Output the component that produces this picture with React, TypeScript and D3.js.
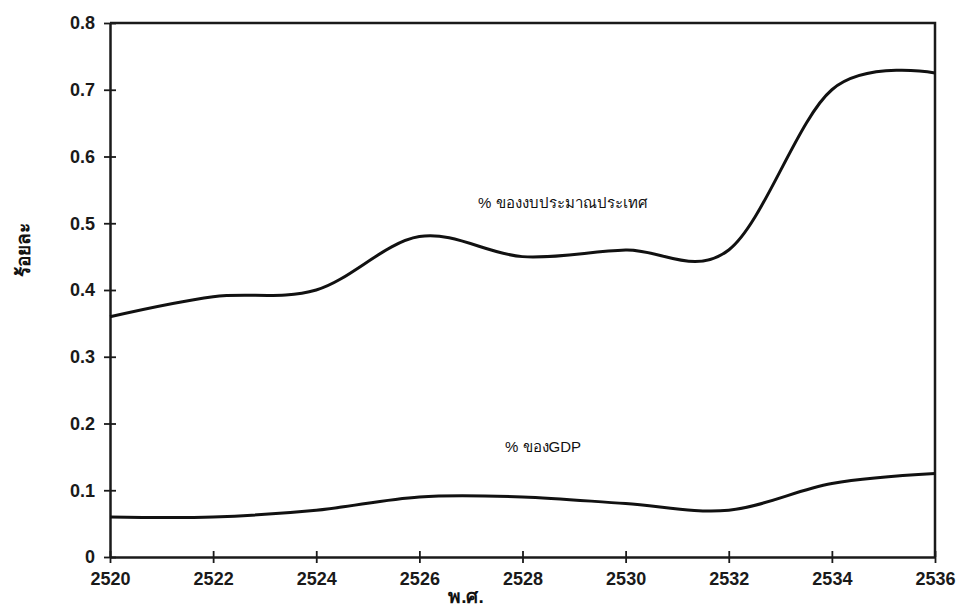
import React, { useEffect, useRef } from "react";
import * as d3 from "d3";

// years on the x axis (พ.ศ.)
const years = [2520, 2522, 2524, 2526, 2528, 2530, 2532, 2534, 2536];
// % of national budget
const budgetShare = [0.36, 0.39, 0.40, 0.48, 0.45, 0.46, 0.46, 0.70, 0.725];
// % of GDP
const gdpShare = [0.06, 0.06, 0.07, 0.09, 0.09, 0.08, 0.07, 0.11, 0.125];

const yTicks = [0, 0.1, 0.2, 0.3, 0.4, 0.5, 0.6, 0.7, 0.8];
const xTicks = [2520, 2522, 2524, 2526, 2528, 2530, 2532, 2534, 2536];

const budgetLabel = "% ของงบประมาณประเทศ";
const gdpLabel = "% ของGDP";
const xTitle = "พ.ศ.";
const yTitle = "ร้อยละ";

const App: React.FC = () => {
  const svgRef = useRef<SVGSVGElement | null>(null);

  useEffect(() => {
    if (!svgRef.current) return;
    const width = 963;
    const height = 610;
    const margin = { top: 23, right: 28, bottom: 53, left: 110 };

    const svg = d3.select(svgRef.current);
    svg.selectAll("*").remove();
    svg.attr("width", width).attr("height", height);

    const x = d3
      .scaleLinear()
      .domain([2520, 2536])
      .range([margin.left, width - margin.right]);
    const y = d3
      .scaleLinear()
      .domain([0, 0.8])
      .range([height - margin.bottom, margin.top]);

    const font = "'Liberation Sans', Arial, sans-serif";

    // frame (top and right)
    svg
      .append("path")
      .attr("d", `M${x(2520)},${y(0.8)}H${x(2536)}V${y(0)}`)
      .attr("fill", "none")
      .attr("stroke", "#1a1a1a")
      .attr("stroke-width", 2.5);

    // y axis
    const yAxis = svg
      .append("g")
      .attr("transform", `translate(${x(2520)},0)`)
      .call(
        d3
          .axisLeft(y)
          .tickValues(yTicks)
          .tickSize(0)
          .tickPadding(15)
          .tickFormat(d => d3.format("")(+d))
      );
    yAxis.select(".domain").attr("stroke", "#1a1a1a").attr("stroke-width", 2.5);
    yAxis
      .selectAll(".tick")
      .append("line")
      .attr("x1", -6)
      .attr("x2", 6)
      .attr("stroke", "#1a1a1a")
      .attr("stroke-width", 1.8);
    yAxis
      .selectAll("text")
      .attr("font-family", font)
      .attr("font-size", 18)
      .attr("font-weight", "bold")
      .attr("fill", "#1a1a1a");

    // x axis
    const xAxis = svg
      .append("g")
      .attr("transform", `translate(0,${y(0)})`)
      .call(
        d3
          .axisBottom(x)
          .tickValues(xTicks)
          .tickSize(0)
          .tickPadding(15)
          .tickFormat(d => String(d))
      );
    xAxis.select(".domain").attr("stroke", "#1a1a1a").attr("stroke-width", 2.5);
    xAxis
      .selectAll(".tick")
      .append("line")
      .attr("y1", -6)
      .attr("y2", 6)
      .attr("stroke", "#1a1a1a")
      .attr("stroke-width", 1.8);
    xAxis
      .selectAll("text")
      .attr("font-family", font)
      .attr("font-size", 18)
      .attr("font-weight", "bold")
      .attr("fill", "#1a1a1a");

    // lines
    const line = d3
      .line<number>()
      .x((_, i) => x(years[i]))
      .y(d => y(d))
      .curve(d3.curveCardinal.tension(0));

    svg
      .append("path")
      .datum(budgetShare)
      .attr("d", line)
      .attr("fill", "none")
      .attr("stroke", "#111")
      .attr("stroke-width", 3);

    svg
      .append("path")
      .datum(gdpShare)
      .attr("d", line)
      .attr("fill", "none")
      .attr("stroke", "#111")
      .attr("stroke-width", 3);

    // series labels
    svg
      .append("text")
      .attr("x", 478)
      .attr("y", 208)
      .attr("font-family", font)
      .attr("font-size", 15)
      .attr("fill", "#111")
      .text(budgetLabel);

    svg
      .append("text")
      .attr("x", 505)
      .attr("y", 452)
      .attr("font-family", font)
      .attr("font-size", 15)
      .attr("fill", "#111")
      .text(gdpLabel);

    // axis titles
    svg
      .append("text")
      .attr("x", 466)
      .attr("y", 603)
      .attr("text-anchor", "middle")
      .attr("font-family", font)
      .attr("font-size", 19)
      .attr("font-weight", "bold")
      .attr("fill", "#111")
      .text(xTitle);

    svg
      .append("text")
      .attr("transform", "translate(30,250) rotate(-90)")
      .attr("text-anchor", "middle")
      .attr("font-family", font)
      .attr("font-size", 19)
      .attr("font-weight", "bold")
      .attr("fill", "#111")
      .text(yTitle);
  }, []);

  return (
    <svg
      ref={svgRef}
      style={{ position: "absolute", left: 0, top: 0, background: "#fff" }}
    ></svg>
  );
};

export default App;
